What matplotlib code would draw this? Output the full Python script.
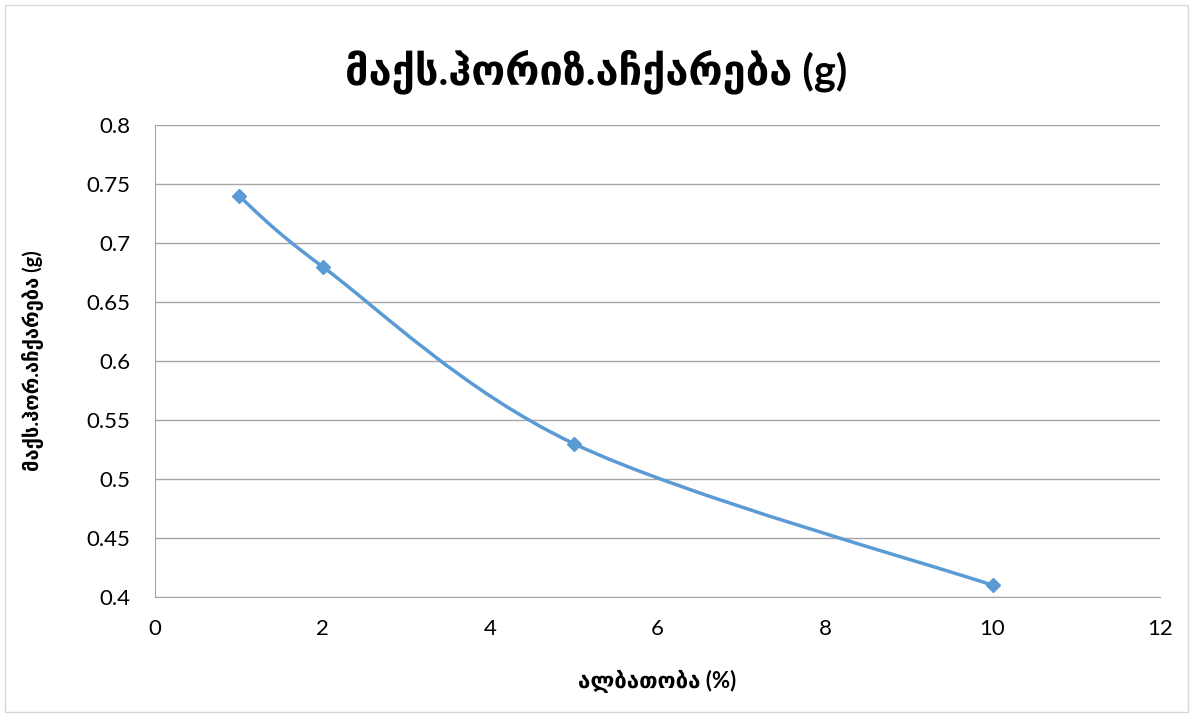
import matplotlib.pyplot as plt
from matplotlib.path import Path
from matplotlib.patches import PathPatch, Rectangle

prob = [1, 2, 5, 10]
accel = [0.74, 0.68, 0.53, 0.41]
title = "მაქს.ჰორიზ.აჩქარება (g)"
xlabel = "ალბათობა (%)"
ylabel = "მაქს.ჰორ.აჩქარება (g)"

plt.rcParams["font.family"] = ["Lato", "DejaVu Sans"]
blue = "#5B9BD5"
grid_c = "#A6A6A6"

fig = plt.figure(figsize=(11.93, 7.17), dpi=100)
ax = fig.add_axes([155 / 1193, 1 - 597 / 717, (1160 - 155) / 1193, (597 - 125) / 717])

# smoothed line (Catmull-Rom as cubic Bezier segments)
pts = list(zip(prob, accel))
verts = [pts[0]]
codes = [Path.MOVETO]
n = len(pts)
for i in range(n - 1):
    p0 = pts[i - 1] if i > 0 else pts[i]
    p1 = pts[i]
    p2 = pts[i + 1]
    p3 = pts[i + 2] if i + 2 < n else pts[i + 1]
    c1 = (p1[0] + (p2[0] - p0[0]) / 6, p1[1] + (p2[1] - p0[1]) / 6)
    c2 = (p2[0] - (p3[0] - p1[0]) / 6, p2[1] - (p3[1] - p1[1]) / 6)
    verts += [c1, c2, p2]
    codes += [Path.CURVE4] * 3
ax.add_patch(PathPatch(Path(verts, codes), facecolor="none", edgecolor=blue, lw=2.5, zorder=3))
ax.plot(prob, accel, linestyle="none", marker="D", markersize=7, color=blue, zorder=4)

ax.set_xlim(0, 12)
ax.set_ylim(0.4, 0.8)
ax.set_xticks(range(0, 13, 2))
ax.set_yticks([0.4, 0.45, 0.5, 0.55, 0.6, 0.65, 0.7, 0.75, 0.8])
ax.set_yticklabels(["0.4", "0.45", "0.5", "0.55", "0.6", "0.65", "0.7", "0.75", "0.8"])
ax.grid(axis="y", color=grid_c, lw=1)
ax.set_axisbelow(True)
for s in ["top", "right"]:
    ax.spines[s].set_visible(False)
ax.spines["left"].set_color(grid_c)
ax.spines["bottom"].set_color(grid_c)
ax.tick_params(axis="both", labelsize=16, length=0)
ax.tick_params(axis="x", pad=16)
ax.tick_params(axis="y", pad=18)

fig.text(0.5, 1 - 72 / 717, title, ha="center", va="center", fontsize=30, fontweight="bold")
ax.set_xlabel(xlabel, fontsize=16, fontweight="bold", labelpad=22)
ax.set_ylabel(ylabel, fontsize=14.5, fontweight="bold", labelpad=30)

fig.patches.append(Rectangle((5 / 1193, 5 / 717), 1 - 10 / 1193, 1 - 10 / 717,
                             transform=fig.transFigure, fill=False, edgecolor="#D9D9D9", lw=1))

fig.savefig("out.png", dpi=100)
